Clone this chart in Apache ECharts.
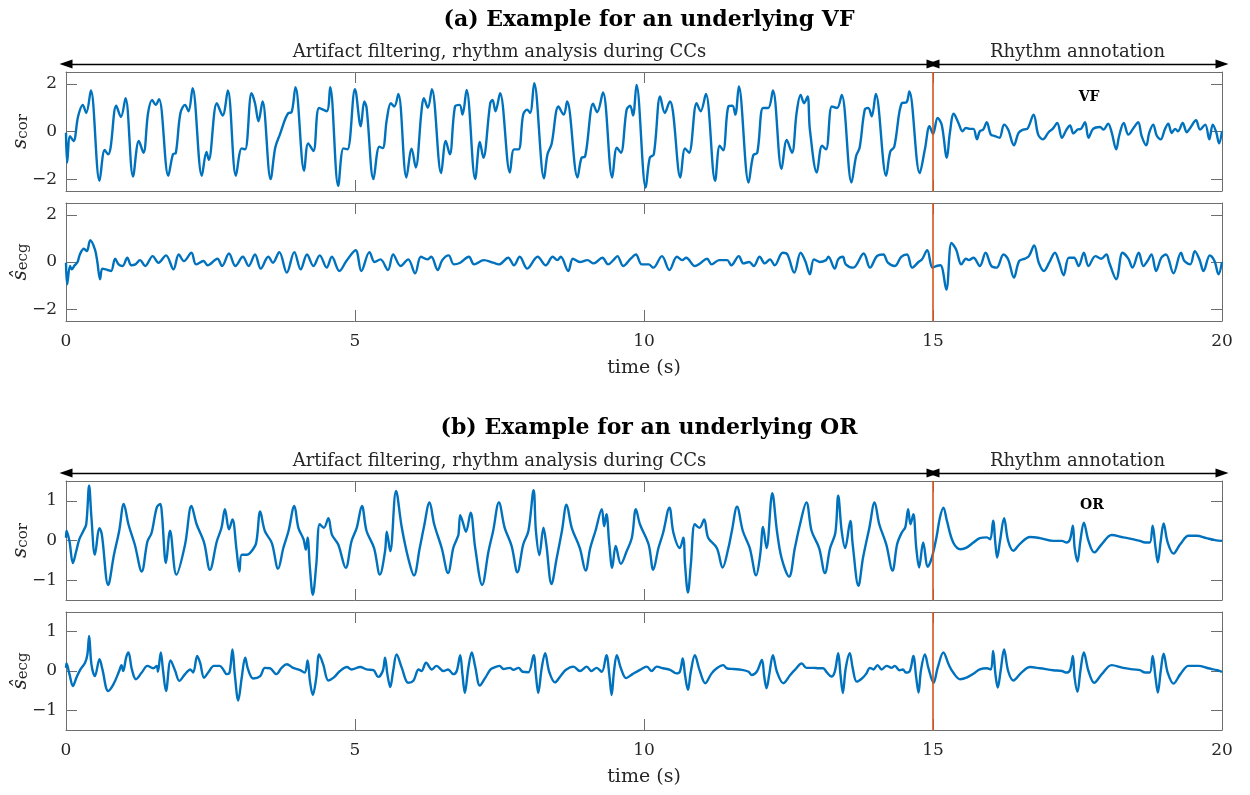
<!DOCTYPE html>
<html>
<head>
<meta charset="utf-8">
<script src="https://cdn.jsdelivr.net/npm/echarts@6/dist/echarts.min.js"></script>
<style>
  html, body { margin: 0; padding: 0; background: #fff; }
  #chart { width: 1250px; height: 795px; }
</style>
</head>
<body>
<div id="chart"></div>
<script>
// ---- data (time in s, amplitude) ----
const timeTicks = [0, 5, 10, 15, 20];
const vfTicks = [-2, 0, 2];
const orTicks = [-1, 0, 1];
const ccEnd = 15;   // end of chest compressions / start of rhythm annotation
const tEnd = 20;

// (a) VF: filtered signal s_cor
const vfCor = [[0,-0.05],[0.02,-1.3],[0.07,-0.2],[0.13,-0.4],[0.21,0.64],[0.29,1.12],[0.35,0.78],[0.43,1.72],[0.58,-2.07],[0.67,-0.78],[0.73,-0.96],[0.77,-0.7],[0.87,1.08],[0.95,0.61],[1.03,1.4],[1.16,-1.89],[1.26,-0.4],[1.34,-0.89],[1.42,0.78],[1.49,1.33],[1.55,1.12],[1.61,1.36],[1.77,-1.86],[1.85,-0.96],[1.9,-0.9],[1.98,0.78],[2.06,1.12],[2.12,0.85],[2.19,1.82],[2.35,-1.86],[2.43,-0.86],[2.47,-1.19],[2.61,1.19],[2.71,0.67],[2.8,1.72],[2.94,-1.86],[3.04,-0.71],[3.1,-0.75],[3.21,1.61],[3.27,1.19],[3.33,0.43],[3.4,1.26],[3.54,-2.0],[3.62,-0.68],[3.7,-0.13],[3.85,0.78],[3.9,0.8],[3.97,1.86],[4.12,-1.65],[4.19,-0.5],[4.28,-0.82],[4.38,0.99],[4.51,0.85],[4.57,1.86],[4.71,-2.28],[4.8,-0.71],[4.87,-0.75],[5.0,1.78],[5.1,0.22],[5.16,1.26],[5.2,1.0],[5.32,-2.0],[5.42,-0.64],[5.48,-0.7],[5.55,0.5],[5.62,1.19],[5.68,1.05],[5.75,1.58],[5.89,-1.93],[5.98,-0.72],[6.05,-1.51],[6.15,0.85],[6.19,1.4],[6.26,1.0],[6.33,1.78],[6.49,-1.75],[6.57,-0.4],[6.64,-0.96],[6.73,1.05],[6.81,1.12],[6.86,0.71],[6.93,1.75],[7.08,-2.0],[7.16,-0.44],[7.22,-1.1],[7.34,1.19],[7.38,1.33],[7.43,0.85],[7.51,1.61],[7.68,-1.72],[7.75,-0.75],[7.83,-0.75],[7.91,0.71],[7.98,0.92],[8.03,0.78],[8.1,2.03],[8.27,-1.97],[8.33,-0.96],[8.4,-0.54],[8.52,1.05],[8.61,0.71],[8.67,1.26],[8.85,-1.93],[8.92,-1.1],[8.98,-1.06],[9.12,1.17],[9.19,0.81],[9.29,1.64],[9.45,-1.93],[9.53,-0.68],[9.6,-0.89],[9.7,0.92],[9.76,1.08],[9.81,0.67],[9.87,1.96],[10.03,-2.35],[10.1,-1.1],[10.17,-0.96],[10.28,1.47],[10.36,0.78],[10.45,1.26],[10.5,0.85],[10.63,-1.93],[10.71,-0.71],[10.78,-0.89],[10.91,1.19],[10.98,0.85],[11.07,1.58],[11.23,-2.07],[11.31,-0.6],[11.37,-0.79],[11.46,1.05],[11.53,1.08],[11.58,0.71],[11.64,1.89],[11.81,-2.14],[11.89,-1.0],[11.96,-0.89],[12.06,0.99],[12.15,0.99],[12.23,1.72],[12.38,-1.58],[12.47,-0.36],[12.56,-0.89],[12.64,0.78],[12.71,1.54],[12.77,1.19],[12.83,1.47],[12.87,0.08],[12.99,-1.72],[13.08,-0.6],[13.15,-0.75],[13.25,1.05],[13.34,0.99],[13.42,1.54],[13.59,-2.14],[13.67,-1.03],[13.73,-0.68],[13.82,0.92],[13.88,0.99],[13.94,0.64],[14.01,1.58],[14.19,-1.86],[14.26,-0.85],[14.33,-0.64],[14.46,1.19],[14.54,1.22],[14.59,1.68],[14.77,-1.75],[14.86,-0.75],[14.94,0.22],[15.0,-0.1],[15.08,0.57],[15.15,0.29],[15.24,-1.1],[15.29,-0.1],[15.36,0.75],[15.44,0.36],[15.51,0.01],[15.57,0.15],[15.64,0.11],[15.7,0.11],[15.76,-0.33],[15.81,0.01],[15.87,0.08],[15.93,0.39],[16.0,-0.13],[16.07,-0.19],[16.15,-0.26],[16.23,0.29],[16.3,0.08],[16.4,-0.58],[16.48,-0.06],[16.56,0.08],[16.63,0.11],[16.74,0.71],[16.82,-0.13],[16.9,-0.33],[17.0,-0.03],[17.07,0.11],[17.15,0.36],[17.23,-0.26],[17.31,0.08],[17.37,0.25],[17.43,-0.08],[17.5,0.08],[17.56,0.11],[17.63,0.39],[17.69,-0.26],[17.77,0.11],[17.89,0.19],[17.95,0.08],[18.03,0.33],[18.09,-0.03],[18.17,-0.75],[18.22,-0.19],[18.3,0.36],[18.38,-0.13],[18.47,0.15],[18.55,0.39],[18.61,-0.19],[18.69,-0.58],[18.74,-0.06],[18.81,0.29],[18.87,-0.17],[18.94,-0.33],[19.01,0.08],[19.07,0.33],[19.13,-0.06],[19.19,0.11],[19.24,0.01],[19.32,0.36],[19.39,-0.03],[19.45,0.15],[19.55,0.47],[19.62,0.08],[19.71,0.29],[19.78,-0.33],[19.84,0.29],[19.9,-0.03],[19.95,-0.5],[20.0,0.01]];

// (a) VF: estimated ECG s_ecg
const vfEcg = [[0,-0.03],[0.02,-0.94],[0.07,-0.17],[0.1,-0.31],[0.15,-0.14],[0.2,0.0],[0.24,0.32],[0.31,0.56],[0.36,0.46],[0.42,0.92],[0.5,0.53],[0.54,0.04],[0.59,-0.73],[0.63,-0.28],[0.72,-0.34],[0.78,-0.38],[0.85,0.14],[0.91,-0.1],[0.98,-0.17],[1.06,0.18],[1.13,-0.14],[1.2,-0.1],[1.28,0.08],[1.37,-0.17],[1.5,0.25],[1.6,-0.03],[1.73,0.28],[1.86,-0.31],[1.95,0.32],[2.04,0.04],[2.17,0.39],[2.25,-0.1],[2.38,0.04],[2.45,-0.14],[2.62,0.14],[2.7,-0.17],[2.82,0.36],[2.93,-0.17],[3.06,0.22],[3.16,-0.17],[3.27,0.32],[3.37,-0.28],[3.5,0.22],[3.58,-0.03],[3.69,0.42],[3.82,-0.45],[3.95,0.42],[4.06,-0.31],[4.17,0.32],[4.28,-0.17],[4.39,0.28],[4.51,-0.24],[4.6,0.22],[4.73,-0.38],[4.85,0.04],[5.01,0.5],[5.11,-0.38],[5.25,0.42],[5.34,0.0],[5.44,0.11],[5.57,-0.34],[5.66,0.32],[5.79,-0.17],[5.92,0.11],[6.04,-0.48],[6.14,0.22],[6.25,0.11],[6.32,0.22],[6.43,-0.34],[6.51,0.08],[6.62,0.28],[6.71,-0.1],[6.82,-0.03],[6.97,0.22],[7.06,-0.1],[7.23,0.08],[7.39,-0.03],[7.49,-0.1],[7.65,0.18],[7.75,-0.14],[7.85,0.22],[7.98,-0.28],[8.16,0.22],[8.3,-0.14],[8.42,0.22],[8.5,0.08],[8.56,0.22],[8.69,-0.38],[8.77,0.14],[8.89,0.0],[9.02,0.08],[9.13,-0.06],[9.28,0.18],[9.38,-0.1],[9.47,0.08],[9.54,0.25],[9.64,-0.17],[9.77,0.14],[9.86,0.32],[9.96,-0.1],[10.08,-0.1],[10.16,-0.24],[10.31,0.25],[10.44,-0.34],[10.57,0.22],[10.66,0.08],[10.73,0.18],[10.88,-0.17],[10.97,-0.06],[11.09,0.14],[11.17,-0.1],[11.3,0.08],[11.44,0.08],[11.51,-0.14],[11.64,0.25],[11.72,-0.06],[11.82,0.0],[11.9,-0.17],[12.0,0.22],[12.09,-0.06],[12.18,0.11],[12.26,-0.14],[12.4,0.39],[12.48,0.32],[12.6,-0.45],[12.71,0.39],[12.79,0.04],[12.87,-0.52],[12.94,0.11],[13.04,0.0],[13.15,0.08],[13.19,0.22],[13.3,-0.28],[13.36,0.11],[13.44,0.22],[13.49,-0.1],[13.62,-0.24],[13.8,0.36],[13.91,-0.24],[14.03,0.25],[14.14,0.32],[14.22,-0.03],[14.34,-0.17],[14.45,0.22],[14.55,0.32],[14.64,-0.24],[14.75,0.0],[14.81,0.11],[14.9,0.5],[14.99,-0.24],[15.06,-0.17],[15.13,-0.14],[15.23,-1.17],[15.32,0.81],[15.4,0.53],[15.49,-0.1],[15.57,0.14],[15.62,0.08],[15.7,0.18],[15.81,-0.17],[15.91,0.39],[16.01,-0.17],[16.1,-0.24],[16.22,0.32],[16.3,0.11],[16.4,-0.66],[16.49,0.04],[16.59,0.14],[16.66,0.25],[16.75,0.7],[16.83,-0.03],[16.92,-0.38],[17.01,-0.03],[17.11,0.39],[17.18,0.0],[17.26,-0.56],[17.35,0.18],[17.44,0.18],[17.52,-0.17],[17.61,0.39],[17.69,-0.17],[17.81,0.25],[17.91,0.14],[18.0,0.32],[18.05,-0.03],[18.17,-0.73],[18.28,0.39],[18.38,0.14],[18.45,-0.24],[18.56,0.39],[18.64,-0.17],[18.71,0.04],[18.78,0.32],[18.86,-0.38],[18.95,0.18],[19.03,0.32],[19.16,-0.48],[19.29,0.39],[19.35,0.04],[19.45,-0.1],[19.53,0.46],[19.61,0.11],[19.68,-0.38],[19.79,0.28],[19.87,0.04],[19.94,-0.52],[20.0,0.0]];

// (b) OR: filtered signal s_cor
const orCor = [[0,0.07],[0.01,0.25],[0.06,-0.02],[0.12,-0.57],[0.17,-0.31],[0.23,0.03],[0.3,0.24],[0.35,0.41],[0.4,1.38],[0.44,0.58],[0.5,-0.36],[0.58,0.31],[0.62,0.15],[0.73,-1.12],[0.83,-0.36],[0.92,0.24],[1.0,0.92],[1.08,0.41],[1.19,-0.1],[1.31,-0.78],[1.41,-0.02],[1.48,0.19],[1.57,0.83],[1.63,0.92],[1.66,0.66],[1.73,-0.57],[1.8,0.25],[1.91,-0.86],[2.06,-0.1],[2.17,0.87],[2.26,0.41],[2.39,-0.06],[2.49,-0.74],[2.61,-0.02],[2.69,0.32],[2.75,0.79],[2.82,0.28],[2.88,0.53],[2.95,-0.23],[3.0,-0.78],[3.04,-0.36],[3.13,-0.36],[3.21,-0.27],[3.29,-0.06],[3.36,0.73],[3.44,0.24],[3.56,-0.06],[3.67,-0.71],[3.76,-0.19],[3.85,0.24],[3.95,0.87],[4.02,0.32],[4.11,0.03],[4.15,-0.23],[4.18,0.07],[4.22,-0.69],[4.27,-1.37],[4.33,-0.61],[4.39,0.41],[4.46,0.32],[4.54,0.56],[4.6,0.15],[4.71,-0.1],[4.84,-0.69],[4.94,-0.02],[5.03,0.32],[5.12,0.87],[5.2,0.24],[5.33,-0.19],[5.43,-0.86],[5.52,-0.27],[5.55,0.22],[5.61,-0.27],[5.71,1.25],[5.81,0.32],[5.92,-0.44],[6.02,-0.88],[6.12,-0.19],[6.19,0.32],[6.29,0.96],[6.37,0.41],[6.5,-0.19],[6.61,-0.82],[6.7,-0.19],[6.76,0.03],[6.79,0.15],[6.82,0.64],[6.86,0.49],[6.92,0.22],[7.0,0.7],[7.08,-0.19],[7.2,-1.12],[7.31,-0.27],[7.39,0.24],[7.49,0.96],[7.59,0.32],[7.71,-0.14],[7.81,-0.8],[7.91,-0.1],[8.0,0.24],[8.09,1.27],[8.13,0.24],[8.19,-0.37],[8.26,0.32],[8.31,-0.1],[8.4,-1.1],[8.49,-0.44],[8.58,0.24],[8.66,0.9],[8.75,0.32],[8.89,-0.19],[8.99,-0.76],[9.07,-0.19],[9.16,0.24],[9.27,0.79],[9.31,0.36],[9.35,0.66],[9.4,-0.1],[9.45,-0.69],[9.51,-0.14],[9.6,-0.59],[9.7,-0.27],[9.79,0.07],[9.86,0.79],[9.93,0.41],[10.08,-0.1],[10.16,-0.74],[10.25,-0.19],[10.33,0.19],[10.44,0.83],[10.51,0.19],[10.62,-0.19],[10.68,0.07],[10.71,-0.61],[10.76,-1.31],[10.81,-0.61],[10.88,0.41],[10.96,0.32],[11.04,0.53],[11.11,0.07],[11.26,-0.19],[11.36,-0.68],[11.46,-0.19],[11.52,0.24],[11.61,0.85],[11.71,0.24],[11.83,-0.19],[11.94,-0.88],[12.01,-0.36],[12.06,0.34],[12.12,-0.19],[12.22,1.19],[12.3,0.24],[12.38,-0.44],[12.51,-0.91],[12.61,-0.19],[12.7,0.41],[12.81,0.96],[12.9,0.24],[13.03,-0.19],[13.13,-0.82],[13.22,-0.19],[13.31,0.19],[13.36,1.13],[13.42,0.24],[13.48,-0.19],[13.57,0.49],[13.61,-0.09],[13.71,-1.14],[13.79,-0.43],[13.9,0.33],[13.99,0.96],[14.07,0.41],[14.19,-0.09],[14.3,-0.76],[14.38,-0.09],[14.46,0.2],[14.52,0.33],[14.57,0.79],[14.61,0.41],[14.66,0.66],[14.71,-0.18],[14.76,-0.68],[14.83,-0.05],[14.91,-0.66],[14.98,-0.43],[15.06,0.08],[15.12,0.58],[15.18,0.83],[15.24,0.5],[15.35,-0.05],[15.48,-0.22],[15.58,-0.18],[15.7,-0.05],[15.81,0.06],[15.93,0.08],[15.99,0.03],[16.04,0.5],[16.08,-0.09],[16.11,-0.43],[16.16,-0.01],[16.23,0.56],[16.3,-0.01],[16.39,-0.26],[16.5,-0.09],[16.68,0.09],[16.85,0.06],[17.08,-0.01],[17.23,-0.01],[17.31,-0.05],[17.37,0.03],[17.42,0.37],[17.45,-0.18],[17.5,-0.53],[17.55,-0.01],[17.61,0.45],[17.69,-0.01],[17.79,-0.3],[17.92,-0.09],[18.09,0.14],[18.29,0.08],[18.47,0.03],[18.58,-0.01],[18.67,-0.05],[18.75,-0.05],[18.8,0.37],[18.85,-0.18],[18.89,-0.55],[18.94,-0.01],[18.99,0.43],[19.06,-0.05],[19.16,-0.33],[19.28,-0.09],[19.42,0.12],[19.56,0.12],[19.73,0.06],[19.88,0.01],[20.0,-0.01]];

// (b) OR: estimated ECG s_ecg
const orEcg = [[0,0.08],[0.01,0.19],[0.06,-0.08],[0.12,-0.38],[0.18,-0.17],[0.25,0.04],[0.33,0.21],[0.37,0.42],[0.4,0.89],[0.44,0.17],[0.5,-0.13],[0.58,0.3],[0.63,0.04],[0.73,-0.51],[0.82,-0.34],[0.92,0.0],[0.96,0.15],[0.99,0.0],[1.04,0.34],[1.08,0.47],[1.14,0.04],[1.21,-0.21],[1.31,-0.04],[1.41,0.13],[1.51,0.07],[1.57,0.13],[1.59,-0.02],[1.64,0.47],[1.68,0.0],[1.73,-0.51],[1.81,0.27],[1.89,0.0],[1.96,-0.25],[2.06,-0.08],[2.15,0.04],[2.2,-0.04],[2.27,0.38],[2.32,0.21],[2.39,-0.17],[2.46,-0.04],[2.56,0.13],[2.66,0.13],[2.72,0.04],[2.78,-0.08],[2.83,-0.04],[2.88,0.55],[2.92,-0.08],[2.98,-0.75],[3.04,-0.17],[3.1,0.34],[3.15,0.04],[3.24,-0.19],[3.36,-0.13],[3.44,0.08],[3.53,0.07],[3.64,-0.08],[3.73,0.08],[3.82,0.17],[3.93,0.08],[4.05,0.02],[4.13,-0.04],[4.18,0.27],[4.22,-0.25],[4.27,-0.61],[4.33,-0.17],[4.38,0.42],[4.45,0.17],[4.54,-0.24],[4.63,-0.17],[4.74,0.0],[4.86,0.1],[4.94,0.04],[5.09,0.1],[5.2,0.04],[5.32,0.02],[5.4,-0.15],[5.48,0.0],[5.52,0.34],[5.56,-0.08],[5.61,-0.41],[5.66,0.0],[5.72,0.42],[5.81,0.08],[5.92,-0.3],[6.01,-0.25],[6.1,0.04],[6.15,0.0],[6.23,0.21],[6.33,0.04],[6.41,0.13],[6.53,0.0],[6.61,0.04],[6.7,-0.08],[6.76,0.0],[6.82,0.4],[6.86,-0.1],[6.9,-0.56],[6.96,0.07],[7.02,0.47],[7.08,0.11],[7.16,-0.37],[7.25,-0.18],[7.34,0.03],[7.39,0.08],[7.5,0.13],[7.57,0.05],[7.68,0.08],[7.74,0.03],[7.83,0.08],[7.9,-0.02],[8.0,-0.03],[8.09,0.4],[8.13,-0.1],[8.17,-0.56],[8.23,0.07],[8.29,0.45],[8.36,-0.02],[8.46,-0.29],[8.55,-0.14],[8.65,0.03],[8.78,0.11],[8.89,0.0],[9.01,0.11],[9.09,0.0],[9.18,0.08],[9.27,-0.02],[9.35,0.4],[9.4,-0.1],[9.44,-0.61],[9.48,-0.02],[9.53,0.4],[9.6,0.07],[9.69,-0.18],[9.8,-0.08],[9.93,0.03],[10.05,0.11],[10.13,0.0],[10.22,0.11],[10.33,0.07],[10.45,0.03],[10.56,-0.06],[10.62,-0.02],[10.67,0.32],[10.71,-0.1],[10.76,-0.48],[10.81,-0.02],[10.88,0.4],[10.96,0.03],[11.06,-0.31],[11.17,-0.06],[11.26,0.07],[11.37,0.15],[11.43,0.07],[11.55,0.05],[11.69,0.03],[11.81,-0.02],[11.86,-0.1],[11.95,-0.02],[12.04,0.28],[12.08,-0.14],[12.12,-0.44],[12.17,-0.06],[12.23,0.4],[12.3,-0.02],[12.41,-0.31],[12.53,-0.1],[12.61,0.03],[12.73,0.19],[12.81,0.08],[12.93,0.08],[13.02,0.07],[13.1,0.07],[13.16,-0.03],[13.24,-0.14],[13.3,-0.02],[13.36,0.45],[13.4,-0.1],[13.44,-0.56],[13.49,0.07],[13.56,0.45],[13.61,0.08],[13.68,-0.27],[13.77,-0.19],[13.84,-0.08],[13.91,0.08],[13.97,0.04],[14.04,0.15],[14.11,0.04],[14.2,0.13],[14.28,0.08],[14.34,0.13],[14.42,0.02],[14.48,0.04],[14.53,-0.04],[14.6,0.0],[14.66,0.38],[14.71,-0.17],[14.75,-0.55],[14.79,0.0],[14.86,0.42],[14.92,0.08],[15.01,-0.3],[15.08,0.08],[15.18,0.47],[15.27,0.17],[15.35,-0.04],[15.47,-0.21],[15.58,-0.17],[15.7,-0.07],[15.81,0.04],[15.93,0.07],[16.0,0.04],[16.04,0.51],[16.08,-0.08],[16.12,-0.42],[16.17,0.0],[16.23,0.55],[16.3,0.0],[16.39,-0.24],[16.53,-0.04],[16.68,0.1],[16.85,0.07],[17.08,0.02],[17.23,0.0],[17.31,-0.04],[17.37,0.02],[17.42,0.38],[17.45,-0.17],[17.5,-0.53],[17.55,0.0],[17.61,0.47],[17.69,0.0],[17.79,-0.3],[17.92,-0.08],[18.09,0.15],[18.29,0.08],[18.47,0.04],[18.58,0.02],[18.67,-0.04],[18.75,-0.04],[18.8,0.38],[18.85,-0.17],[18.89,-0.55],[18.94,0.0],[18.99,0.44],[19.06,-0.04],[19.16,-0.32],[19.28,-0.08],[19.42,0.13],[19.59,0.13],[19.76,0.07],[19.92,0.02],[20.0,-0.02]];

// rhythm tags inside the upper panels: [label, time, amplitude]
const vfTag = ['VF', 17.7, 1.45];
const orTag = ['OR', 17.75, 0.88];

// ---- styling ----
const FONT = '"DejaVu Serif", "Liberation Serif", serif';
const AX = '#6e6e6e';
const TXT = '#262626';
const BLUE = '#0072BD';
const RED = '#D95319';

const chart = echarts.init(document.getElementById('chart'), null, { renderer: 'canvas' });

// grid boxes; outerBoundsMode 'none' so v6 does not shrink them around labels
const gridBase = { left: 66, width: 1156, outerBoundsMode: 'none', containLabel: false };
const grids = [
  Object.assign({ top: 72, height: 119 }, gridBase),
  Object.assign({ top: 203, height: 118 }, gridBase),
  Object.assign({ top: 481, height: 119 }, gridBase),
  Object.assign({ top: 612, height: 118 }, gridBase),
  Object.assign({ top: 58, height: 12 }, gridBase),   // arrow row (a)
  Object.assign({ top: 467, height: 12 }, gridBase)   // arrow row (b)
];

const minus = v => String(v).replace('-', '\u2212');

function xPair(g, withLabels) {
  const base = {
    type: 'value', gridIndex: g, min: 0, max: tEnd, interval: 5,
    axisLine: { show: true, onZero: false, lineStyle: { color: AX, width: 1 } },
    axisTick: { show: true, inside: true, length: 11, lineStyle: { color: AX } },
    splitLine: { show: false }
  };
  return [
    Object.assign({}, base, {
      position: 'bottom',
      axisLabel: { show: withLabels, margin: 12, color: TXT, fontFamily: FONT, fontSize: 17 },
      name: withLabels ? 'time (s)' : '',
      nameLocation: 'middle', nameGap: 38, nameMoveOverlap: false,
      nameTextStyle: { color: TXT, fontFamily: FONT, fontSize: 19 }
    }),
    Object.assign({}, base, { position: 'top', axisLabel: { show: false } })
  ];
}

function yPair(g, lim, ticks, name) {
  const base = {
    type: 'value', gridIndex: g, min: -lim, max: lim,
    axisLine: { show: true, onZero: false, lineStyle: { color: AX, width: 1 } },
    axisTick: { show: true, inside: true, length: 11, customValues: ticks, lineStyle: { color: AX } },
    splitLine: { show: false }
  };
  return [
    Object.assign({}, base, {
      position: 'left',
      axisLabel: { customValues: ticks, formatter: minus, margin: 9, color: TXT, fontFamily: FONT, fontSize: 17 },
      name: name, nameLocation: 'middle', nameRotate: 90, nameGap: 30, nameMoveOverlap: false,
      nameTextStyle: {
        color: TXT,
        rich: {
          i: { fontFamily: FONT, fontStyle: 'italic', fontSize: 20, color: TXT, padding: [0, 0, 5, 0] },
          sub: { fontFamily: FONT, fontSize: 15, color: TXT }
        }
      }
    }),
    Object.assign({}, base, { position: 'right', axisLabel: { show: false } })
  ];
}

const xAxes = [].concat(
  xPair(0, false), xPair(1, true), xPair(2, false), xPair(3, true),
  [{ type: 'value', gridIndex: 4, min: 0, max: tEnd, show: false },
   { type: 'value', gridIndex: 5, min: 0, max: tEnd, show: false }]
);
const yAxes = [].concat(
  yPair(0, 2.5, vfTicks, '{i|s}{sub|cor}'),
  yPair(1, 2.5, vfTicks, '{i|\u015D}{sub|ecg}'),
  yPair(2, 1.5, orTicks, '{i|s}{sub|cor}'),
  yPair(3, 1.5, orTicks, '{i|\u015D}{sub|ecg}'),
  [{ type: 'value', gridIndex: 4, min: 0, max: 1, show: false },
   { type: 'value', gridIndex: 5, min: 0, max: 1, show: false }]
);

function trace(g, data, tag) {
  const s = {
    type: 'line', xAxisIndex: 2 * g, yAxisIndex: 2 * g, data: data,
    showSymbol: false, smooth: 0.35, silent: true,
    lineStyle: { color: BLUE, width: 2.4 },
    markLine: {
      silent: true, symbol: ['none', 'none'], animation: false,
      lineStyle: { color: RED, width: 1.6, type: 'solid' },
      label: { show: false },
      data: [{ xAxis: ccEnd }]
    }
  };
  if (tag) {
    s.markPoint = {
      silent: true, symbol: 'circle', symbolSize: 1, animation: false,
      itemStyle: { color: 'rgba(0,0,0,0)' },
      label: { show: true, position: 'inside', formatter: '{b}', color: '#000',
               fontFamily: FONT, fontWeight: 'bold', fontSize: 14 },
      data: [{ name: tag[0], coord: [tag[1], tag[2]] }]
    };
  }
  return s;
}

function arrows(idx) {
  return {
    type: 'line', xAxisIndex: idx, yAxisIndex: idx, data: [], silent: true, clip: false,
    markLine: {
      silent: true, animation: false,
      symbol: ['triangle', 'triangle'], symbolSize: [9, 13],
      lineStyle: { color: '#000', width: 1.3, type: 'solid' },
      label: { show: true, position: 'insideMiddleTop', formatter: '{b}', distance: 3,
               color: TXT, fontFamily: FONT, fontSize: 18 },
      data: [
        [{ name: 'Artifact filtering, rhythm analysis during CCs', coord: [0, 0.5] }, { coord: [ccEnd, 0.5] }],
        [{ name: 'Rhythm annotation', coord: [ccEnd, 0.5] }, { coord: [tEnd, 0.5] }]
      ]
    }
  };
}

chart.setOption({
  animation: false,
  backgroundColor: '#fff',
  title: [
    { text: '(a) Example for an underlying VF', left: 644, top: 4, textAlign: 'center',
      textStyle: { color: '#000', fontFamily: FONT, fontSize: 22, fontWeight: 'bold' } },
    { text: '(b) Example for an underlying OR', left: 644, top: 412, textAlign: 'center',
      textStyle: { color: '#000', fontFamily: FONT, fontSize: 22, fontWeight: 'bold' } }
  ],
  grid: grids,
  xAxis: xAxes,
  yAxis: yAxes,
  series: [
    trace(0, vfCor, vfTag),
    trace(1, vfEcg),
    trace(2, orCor, orTag),
    trace(3, orEcg),
    arrows(8),
    arrows(9)
  ]
});
</script>
</body>
</html>
